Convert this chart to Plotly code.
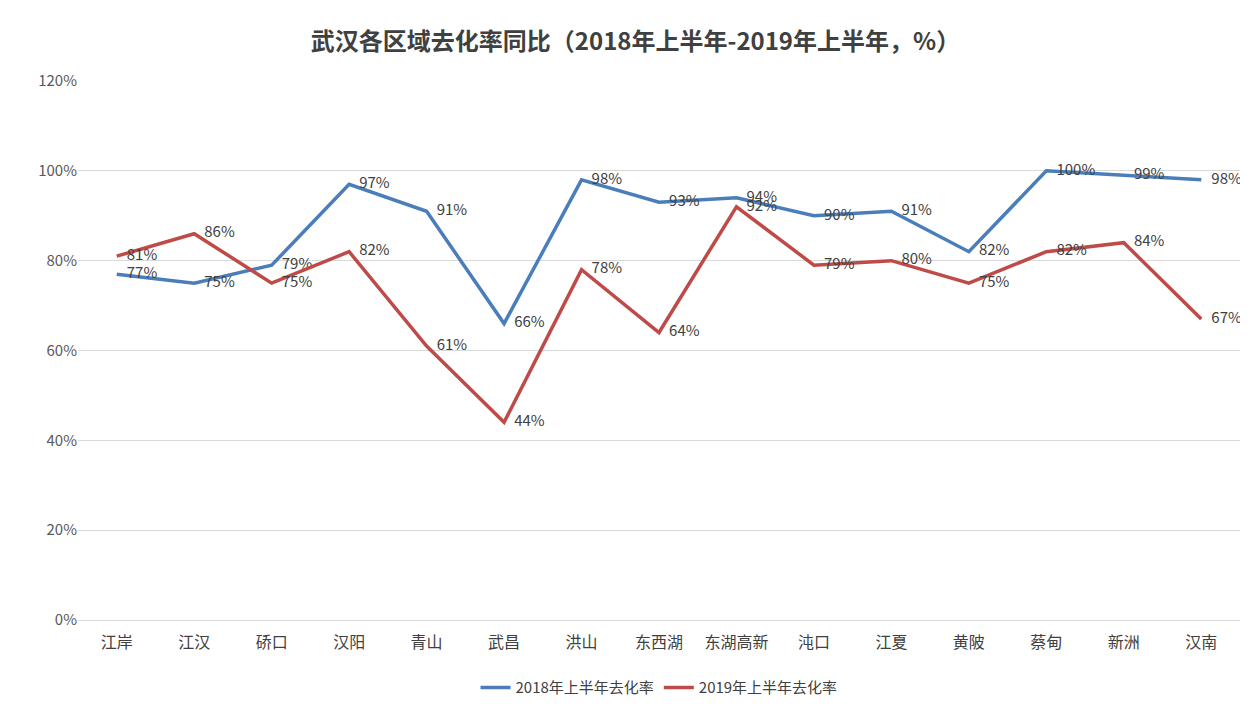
import plotly.graph_objects as go

categories = ["江岸","江汉","硚口","汉阳","青山","武昌","洪山","东西湖","东湖高新","沌口","江夏","黄陂","蔡甸","新洲","汉南"]
s2018 = [77,75,79,97,91,66,98,93,94,90,91,82,100,99,98]
s2019 = [81,86,75,82,61,44,78,64,92,79,80,75,82,84,67]
font = "Noto Sans CJK SC"

fig = go.Figure()
fig.add_trace(go.Scatter(x=categories, y=s2018, mode="lines+text", name="2018年上半年去化率",
    line=dict(color="#4a7ebb", width=3.5), text=[f"   {v}%" for v in s2018],
    textposition="middle right", textfont=dict(size=15, color="#404040")))
fig.add_trace(go.Scatter(x=categories, y=s2019, mode="lines+text", name="2019年上半年去化率",
    line=dict(color="#be4b48", width=3.5), text=[f"   {v}%" for v in s2019],
    textposition="middle right", textfont=dict(size=15, color="#404040")))
fig.update_layout(
    width=1255, height=718, paper_bgcolor="white", plot_bgcolor="white",
    font=dict(family=font, color="#595959", size=15),
    title=dict(text="<b>武汉各区域去化率同比（2018年上半年-2019年上半年，%）</b>", x=0.5, y=0.965,
               xanchor="center", font=dict(size=24, color="#404040")),
    margin=dict(l=70, r=23, t=73, b=106),
    xaxis=dict(range=[-0.5, len(categories)-0.5], showgrid=False, showline=True, linecolor="#d9d9d9", ticks="",
               tickfont=dict(size=16, color="#404040"), automargin=False, ticklabelstandoff=8),
    yaxis=dict(range=[0,120], dtick=20, ticksuffix="%", gridcolor="#d9d9d9", zeroline=False,
               tickfont=dict(size=15), automargin=False),
    legend=dict(orientation="h", x=0.5, xanchor="center", y=-0.095, yanchor="top", font=dict(size=15, color="#404040")),
)
fig.write_html("out.html")
